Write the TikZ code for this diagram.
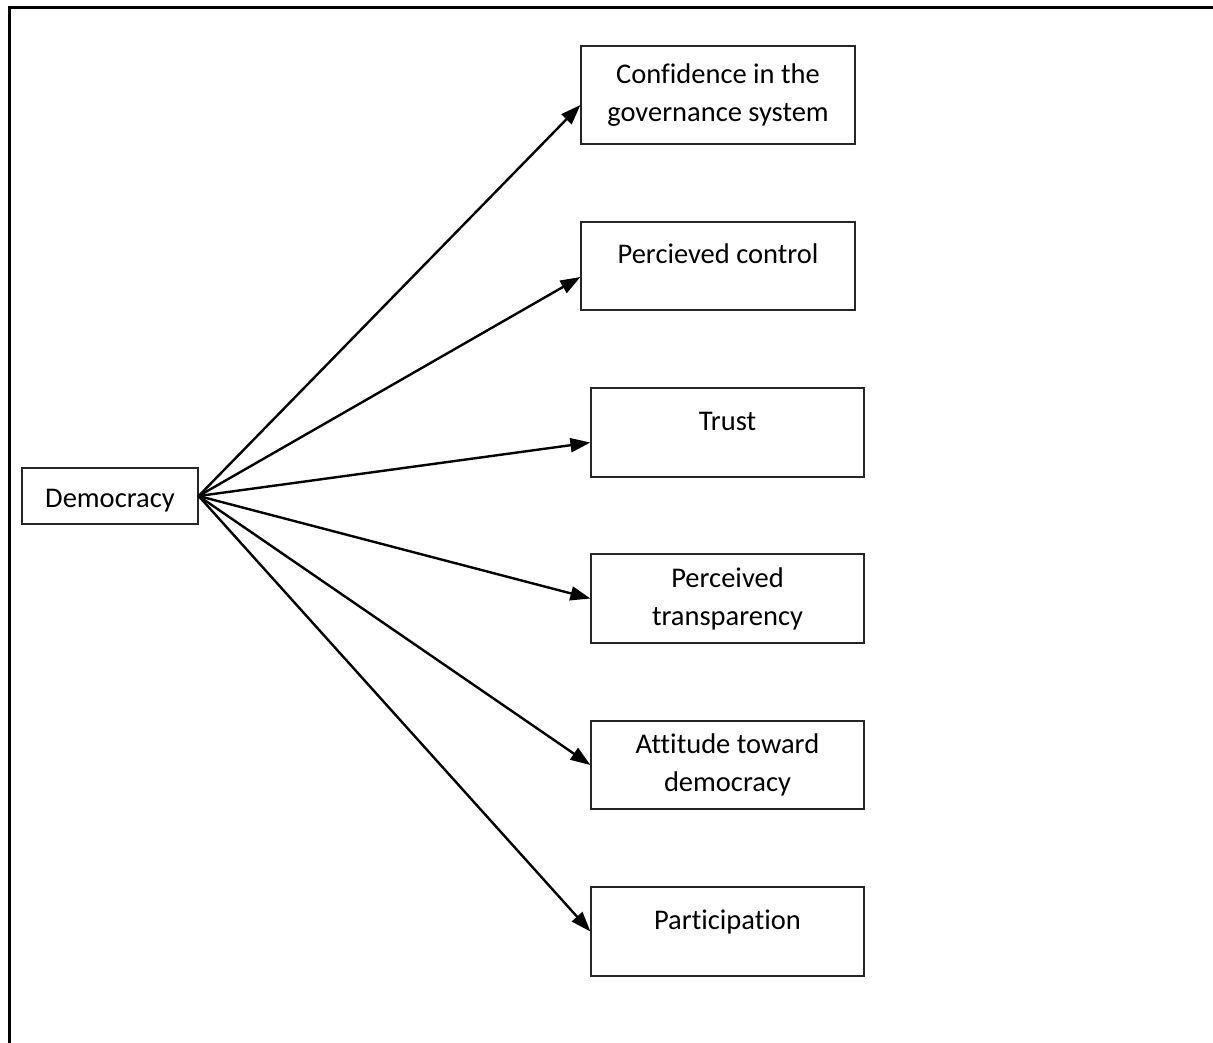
\documentclass[tikz,border=0pt]{standalone}
\usepackage{fontspec}
\setmainfont{Carlito}[Ligatures={NoCommon,NoRequired,NoContextual},RawFeature={-liga;-clig;-calt}]
\usetikzlibrary{arrows.meta}

\begin{document}
\begin{tikzpicture}[x=1pt,y=-1pt,
		factor/.style={draw=black!85,line width=1.2pt,minimum width=274pt,minimum height=88pt,align=center,inner sep=0pt,font=\fontsize{28.5}{38}\selectfont},
		oneline/.style={text height=20pt,text depth=24pt},
		link/.style={line width=2.4pt,-{Triangle[length=20pt,width=14pt]}}]
		\useasboundingbox (0,0) rectangle (1213,1043);
		
		%frame
		\draw[line width=3pt] (1213,8) -- (9,8) -- (9,1043);
		
		%source
		\node[factor,minimum width=176pt,minimum height=56pt,text height=22pt,text depth=0pt] (demo) at (110,496) {Democracy};
		
		%outcomes
		\node[factor,minimum height=98pt] (conf) at (718,95) {Confidence in the\\governance system};
		\node[factor,oneline] (ctrl) at (718,266) {Percieved control};
		\node[factor,oneline,minimum width=273pt,minimum height=89pt] (trust) at (727.5,432.5) {Trust};
		\node[factor,minimum width=273pt,minimum height=89pt] (transp) at (727.5,598.5) {Perceived\\transparency};
		\node[factor,minimum width=273pt] (att) at (727.5,765) {Attitude toward\\democracy};
		\node[factor,oneline,minimum width=273pt,minimum height=89pt] (part) at (727.5,931.5) {Participation};
		
		%arrows
		\draw[link] (demo.east) -- ([yshift=-10pt]conf.west);
		\draw[link] (demo.east) -- ([yshift=-11pt]ctrl.west);
		\draw[link] (demo.east) -- ([yshift=-10pt]trust.west);
		\draw[link] (demo.east) -- (transp.west);
		\draw[link] (demo.east) -- (att.west);
		\draw[link] (demo.east) -- (part.west);
		
\end{tikzpicture}
\end{document}
